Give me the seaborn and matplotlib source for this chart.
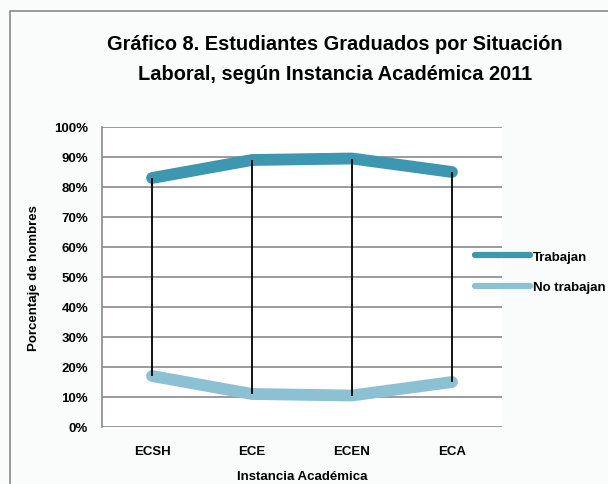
import pandas as pd
import numpy as np
import matplotlib
matplotlib.use("Agg")
import matplotlib.pyplot as plt
import seaborn as sns
from matplotlib.patches import Rectangle
from matplotlib.ticker import PercentFormatter

# data
categories = ["ECSH", "ECE", "ECEN", "ECA"]
trabajan = [83, 89, 89.5, 85]
no_trabajan = [17, 11, 10.5, 15]
series_names = ["Trabajan", "No trabajan"]
series_colors = ["#3d97b0", "#8cc1d4"]

df = pd.DataFrame({
    "Instancia": categories * 2,
    "Porcentaje": trabajan + no_trabajan,
    "Serie": [series_names[0]] * 4 + [series_names[1]] * 4,
})
df["x"] = df["Instancia"].map({c: i for i, c in enumerate(categories)})

sns.set_style("white")
plt.rcParams["font.family"] = ["Liberation Sans", "DejaVu Sans"]
plt.rcParams["font.weight"] = "bold"
plt.rcParams["text.color"] = "black"
plt.rcParams["axes.labelcolor"] = "black"
plt.rcParams["xtick.labelcolor"] = "black"
plt.rcParams["ytick.labelcolor"] = "black"

fig = plt.figure(figsize=(6.08, 4.85), dpi=100)
fig.patch.set_facecolor("#fafbfb")
fig.patches.append(Rectangle((10 / 608, -0.05), 0.99, 1 - 12 / 485 + 0.05,
                             transform=fig.transFigure, fill=False,
                             edgecolor="#8a8a8a", linewidth=1.2))

ax = fig.add_axes([102 / 608, 1 - 428 / 485, 400 / 608, 300 / 485])
ax.set_facecolor("white")

sns.lineplot(data=df, x="x", y="Porcentaje", hue="Serie", hue_order=series_names,
             palette=series_colors, linewidth=8.5, ax=ax, legend=False,
             solid_capstyle="round", solid_joinstyle="round")

# high-low lines between the two series
ax.vlines(range(len(categories)), no_trabajan, trabajan, color="black",
          linewidth=1.3, zorder=5)

ax.set_xlim(-0.5, 3.5)
ax.set_ylim(0, 100)
ax.set_yticks(np.arange(0, 101, 10))
ax.yaxis.set_major_formatter(PercentFormatter(decimals=0))
ax.set_xticks(range(len(categories)))
ax.set_xticklabels(categories, fontweight="bold")
for t in ax.get_yticklabels():
    t.set_fontweight("bold")
ax.grid(axis="y", color="#8a8a8a", linewidth=1.2)
ax.set_axisbelow(True)
for s in ["top", "right", "bottom"]:
    ax.spines[s].set_visible(False)
ax.spines["left"].set_color("#8a8a8a")
ax.spines["left"].set_linewidth(1.2)
ax.tick_params(axis="y", length=4, width=1.2, color="#8a8a8a", labelsize=9.5, pad=6)
ax.tick_params(axis="x", length=0, labelsize=9.5, pad=13)

ax.set_xlabel("Instancia Académica", fontsize=9.5, fontweight="bold", labelpad=9)
ax.set_ylabel("Porcentaje de hombres", fontsize=9.5, fontweight="bold", labelpad=10)

fig.text(335 / 608, 1 - 45 / 485, "Gráfico 8. Estudiantes Graduados por Situación",
         ha="center", va="center", fontsize=14.4, fontweight="bold")
fig.text(335 / 608, 1 - 75 / 485, "Laboral, según Instancia Académica 2011",
         ha="center", va="center", fontsize=14.4, fontweight="bold")

handles = [plt.Line2D([], [], color=c, linewidth=4.5, solid_capstyle="round")
           for c in series_colors]
fig.legend(handles, series_names, loc="center left",
           bbox_to_anchor=(463 / 608, 1 - 273 / 485), frameon=False,
           handlelength=4.2, labelspacing=1.4, prop={"size": 9.5, "weight": "bold"},
           handletextpad=0.2)

fig.savefig("out.png", dpi=100, facecolor=fig.get_facecolor())
